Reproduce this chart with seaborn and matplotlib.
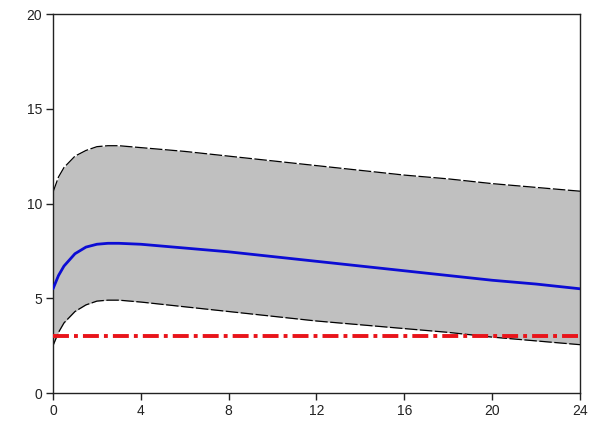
import numpy as np
import pandas as pd
import matplotlib
matplotlib.use('Agg')
import matplotlib.pyplot as plt
import seaborn as sns

# Values
time_h = [0, 0.25, 0.5, 1, 1.5, 2, 2.5, 3, 4, 6, 8, 10, 12, 14, 16, 18, 20, 22, 24]
mean_conc = [5.5, 6.2, 6.7, 7.35, 7.7, 7.85, 7.9, 7.9, 7.85, 7.65, 7.45, 7.2, 6.95, 6.7, 6.45, 6.2, 5.95, 5.75, 5.5]
upper_conc = [10.6, 11.4, 11.9, 12.5, 12.8, 13.0, 13.05, 13.05, 12.95, 12.75, 12.5, 12.25, 12.0, 11.75, 11.5, 11.3, 11.05, 10.85, 10.65]
lower_conc = [2.5, 3.2, 3.7, 4.3, 4.65, 4.85, 4.9, 4.9, 4.8, 4.55, 4.3, 4.05, 3.8, 3.6, 3.4, 3.2, 2.95, 2.75, 2.55]
threshold = 3.0

x_ticks = [0, 4, 8, 12, 16, 20, 24]
y_ticks = [0, 5, 10, 15, 20]

df = pd.DataFrame({'time': time_h, 'mean': mean_conc, 'upper': upper_conc, 'lower': lower_conc})

sns.set_style('ticks')
plt.rcParams['font.family'] = ['Liberation Sans', 'DejaVu Sans']

fig = plt.figure(figsize=(5.97, 4.21), dpi=100)
ax = fig.add_axes([0.0888, 0.0665, 0.8827, 0.9002])

ax.fill_between(df['time'], df['lower'], df['upper'], color='#c0c0c0', linewidth=0, zorder=1)
sns.lineplot(data=df, x='time', y='upper', ax=ax, color='black', linewidth=0.9,
             linestyle=(0, (10, 2)), zorder=2)
sns.lineplot(data=df, x='time', y='lower', ax=ax, color='black', linewidth=0.9,
             linestyle=(0, (10, 2)), zorder=2)
sns.lineplot(data=df, x='time', y='mean', ax=ax, color='#0c0cd4', linewidth=2, zorder=3)
ax.axhline(threshold, color='#e8141a', linewidth=2.8, linestyle=(0, (4.1, 1.3, 1.0, 1.3)), zorder=4)

ax.set_xlim(0, 24)
ax.set_ylim(0, 20)
ax.set_xticks(x_ticks)
ax.set_yticks(y_ticks)
ax.set_xlabel('')
ax.set_ylabel('')
for side in ['left', 'bottom', 'top', 'right']:
    ax.spines[side].set_color('#222222')
    ax.spines[side].set_linewidth(1.0)
ax.tick_params(axis='both', direction='out', length=5, width=1, color='#222222',
               labelsize=10, labelcolor='#222222', pad=3)

plt.savefig('out.png', dpi=100)
